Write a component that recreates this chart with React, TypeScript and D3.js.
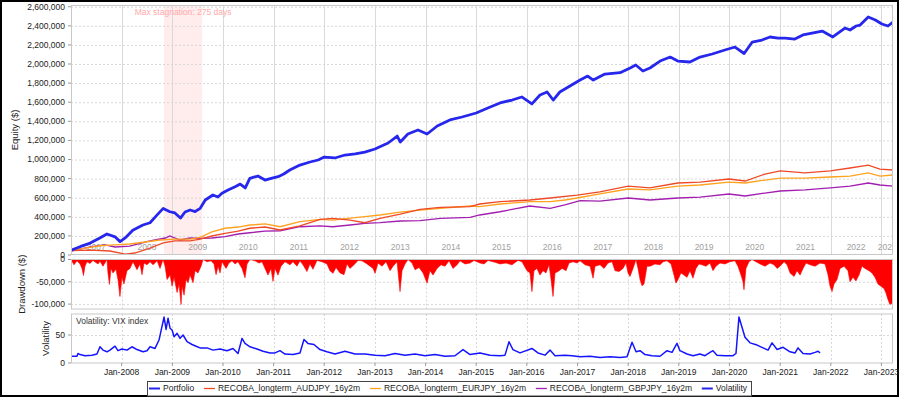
import React from 'react';
import * as d3 from 'd3';

// time is stored as decimal years, values in $ (vix in points)
const portfolio: [number, number][] = [
  [2007.0, 50000], [2007.18, 87000], [2007.38, 125000], [2007.57, 178000], [2007.71, 220000],
  [2007.87, 190000], [2007.97, 140000], [2008.09, 188000], [2008.22, 260000], [2008.42, 314000],
  [2008.56, 338000], [2008.7, 420000], [2008.82, 488000], [2008.95, 453000], [2009.05, 440000],
  [2009.16, 387000], [2009.25, 450000], [2009.35, 471000], [2009.45, 455000], [2009.55, 489000],
  [2009.65, 576000], [2009.8, 628000], [2009.9, 607000], [2009.98, 646000], [2010.1, 680000],
  [2010.24, 715000], [2010.34, 743000], [2010.44, 702000], [2010.53, 803000], [2010.69, 827000],
  [2010.83, 785000], [2010.97, 806000], [2011.09, 820000], [2011.2, 848000], [2011.32, 890000],
  [2011.52, 942000], [2011.72, 974000], [2011.88, 995000], [2012.0, 1026000], [2012.21, 1016000],
  [2012.41, 1047000], [2012.61, 1058000], [2012.8, 1078000], [2013.0, 1110000], [2013.26, 1173000],
  [2013.44, 1246000], [2013.5, 1183000], [2013.65, 1267000], [2013.85, 1309000], [2014.03, 1267000],
  [2014.23, 1351000], [2014.48, 1414000], [2014.72, 1445000], [2015.0, 1487000], [2015.23, 1539000],
  [2015.47, 1592000], [2015.71, 1623000], [2015.9, 1655000], [2016.1, 1582000], [2016.26, 1676000],
  [2016.4, 1707000], [2016.52, 1623000], [2016.65, 1707000], [2016.85, 1770000], [2017.05, 1832000],
  [2017.2, 1874000], [2017.31, 1832000], [2017.54, 1895000], [2017.84, 1909000], [2018.04, 1958000],
  [2018.15, 1990000], [2018.29, 1927000], [2018.43, 1958000], [2018.63, 2031000], [2018.83, 2073000],
  [2018.98, 2031000], [2019.22, 2021000], [2019.42, 2073000], [2019.66, 2105000], [2019.91, 2147000],
  [2020.11, 2178000], [2020.29, 2110000], [2020.45, 2230000], [2020.64, 2251000], [2020.8, 2283000],
  [2020.96, 2272000], [2021.1, 2272000], [2021.29, 2261000], [2021.45, 2304000], [2021.63, 2324000],
  [2021.83, 2345000], [2022.04, 2283000], [2022.28, 2377000], [2022.38, 2356000], [2022.5, 2398000],
  [2022.58, 2408000], [2022.74, 2492000], [2022.88, 2461000], [2023.01, 2419000], [2023.13, 2398000],
  [2023.229, 2440000],
];

const audjpy: [number, number][] = [
  [2007.0, 45000], [2007.38, 52000], [2007.77, 42000], [2008.07, 10000], [2008.26, 21000],
  [2008.56, 73000], [2008.82, 126000], [2009.05, 147000], [2009.35, 147000], [2009.55, 167000],
  [2009.78, 199000], [2010.04, 227000], [2010.3, 251000], [2010.53, 280000], [2010.83, 293000],
  [2011.13, 262000], [2011.52, 304000], [2011.92, 373000], [2012.17, 384000], [2012.51, 366000],
  [2012.8, 338000], [2013.1, 384000], [2013.5, 429000], [2013.89, 478000], [2014.29, 499000],
  [2014.88, 506000], [2015.07, 534000], [2015.47, 558000], [2016.06, 576000], [2016.46, 597000],
  [2016.99, 628000], [2017.44, 660000], [2018.0, 722000], [2018.43, 702000], [2018.98, 754000],
  [2019.42, 764000], [2019.99, 796000], [2020.31, 775000], [2020.7, 848000], [2021.0, 880000],
  [2021.49, 859000], [2021.99, 880000], [2022.38, 911000], [2022.74, 942000], [2022.97, 900000],
  [2023.229, 890000],
];

const eurjpy: [number, number][] = [
  [2007.0, 45000], [2007.28, 73000], [2007.57, 97000], [2007.87, 105000], [2008.16, 115000],
  [2008.46, 136000], [2008.76, 157000], [2009.05, 167000], [2009.35, 167000], [2009.55, 185000],
  [2009.78, 241000], [2010.04, 280000], [2010.3, 293000], [2010.53, 314000], [2010.83, 325000],
  [2011.13, 296000], [2011.52, 349000], [2011.92, 373000], [2012.17, 366000], [2012.51, 387000],
  [2012.8, 401000], [2013.1, 419000], [2013.5, 450000], [2013.89, 471000], [2014.29, 489000],
  [2014.88, 513000], [2015.07, 506000], [2015.47, 534000], [2016.06, 558000], [2016.46, 558000],
  [2016.75, 576000], [2016.99, 597000], [2017.44, 639000], [2018.0, 691000], [2018.43, 681000],
  [2018.98, 722000], [2019.42, 733000], [2019.99, 764000], [2020.31, 754000], [2020.7, 785000],
  [2021.0, 806000], [2021.49, 806000], [2021.99, 817000], [2022.38, 827000], [2022.74, 859000],
  [2022.97, 827000], [2023.229, 838000],
];

const gbpjpy: [number, number][] = [
  [2007.0, 40000], [2007.38, 84000], [2007.67, 105000], [2007.87, 84000], [2008.16, 94000],
  [2008.56, 147000], [2008.86, 178000], [2008.95, 199000], [2009.15, 157000], [2009.35, 178000],
  [2009.55, 175000], [2009.78, 178000], [2010.04, 192000], [2010.3, 220000], [2010.53, 233000],
  [2010.83, 251000], [2011.13, 254000], [2011.52, 296000], [2011.92, 304000], [2012.17, 296000],
  [2012.51, 314000], [2012.8, 331000], [2013.1, 338000], [2013.5, 356000], [2013.89, 359000],
  [2014.29, 384000], [2014.88, 395000], [2015.07, 419000], [2015.47, 453000], [2016.06, 513000],
  [2016.46, 488000], [2016.75, 524000], [2017.05, 569000], [2017.44, 565000], [2018.0, 597000],
  [2018.43, 576000], [2018.98, 597000], [2019.42, 607000], [2019.99, 639000], [2020.31, 618000],
  [2020.7, 649000], [2021.0, 670000], [2021.49, 681000], [2021.99, 702000], [2022.38, 722000],
  [2022.74, 754000], [2022.97, 733000], [2023.229, 722000],
];

const drawdown: [number, number][] = [
  [2007.0, 0], [2007.059, -12000], [2007.118, -3000], [2007.178, -10000], [2007.217, -20000],
  [2007.247, -36000], [2007.276, -15000], [2007.316, -5000], [2007.375, -9000], [2007.434, -2000],
  [2007.533, -10000], [2007.573, -4000], [2007.632, -15000], [2007.711, 0], [2007.73, -30000],
  [2007.76, -56000], [2007.79, -20000], [2007.829, -30000], [2007.888, -22000], [2007.928, -45000],
  [2007.967, -83000], [2008.007, -40000], [2008.046, -55000], [2008.106, -25000], [2008.165, -20000],
  [2008.224, -5000], [2008.303, -23000], [2008.362, -10000], [2008.402, -34000], [2008.441, -8000],
  [2008.5, -12000], [2008.56, -5000], [2008.619, -12000], [2008.698, -3000], [2008.757, -20000],
  [2008.816, 0], [2008.856, -15000], [2008.895, -45000], [2008.955, -35000], [2008.994, -60000],
  [2009.034, -40000], [2009.093, -74000], [2009.132, -55000], [2009.172, -101000], [2009.191, -60000],
  [2009.231, -80000], [2009.27, -45000], [2009.31, -52000], [2009.349, -35000], [2009.409, -52000],
  [2009.448, -25000], [2009.507, -30000], [2009.567, -15000], [2009.606, 0], [2009.685, -5000],
  [2009.764, -3000], [2009.823, -10000], [2009.863, -34000], [2009.902, -15000], [2009.942, -30000],
  [2009.981, -5000], [2010.06, -20000], [2010.119, -8000], [2010.179, -3000], [2010.238, -10000],
  [2010.297, -5000], [2010.376, -20000], [2010.435, -41000], [2010.475, -10000], [2010.534, 0],
  [2010.633, -3000], [2010.712, -8000], [2010.771, -5000], [2010.85, -25000], [2010.889, -35000],
  [2010.949, -20000], [2010.988, -49000], [2011.028, -20000], [2011.087, -35000], [2011.146, -15000],
  [2011.225, -5000], [2011.324, -12000], [2011.383, -5000], [2011.462, -15000], [2011.521, -3000],
  [2011.58, -12000], [2011.659, -27000], [2011.718, -10000], [2011.778, -22000], [2011.857, -2000],
  [2011.955, -5000], [2012.054, -10000], [2012.113, -25000], [2012.173, -31000], [2012.232, -18000],
  [2012.311, -30000], [2012.39, -34000], [2012.449, -10000], [2012.508, -20000], [2012.587, -12000],
  [2012.666, -2000], [2012.745, -3000], [2012.844, -10000], [2012.962, -20000], [2013.002, -31000],
  [2013.061, -8000], [2013.14, -15000], [2013.219, -5000], [2013.298, -25000], [2013.357, -15000],
  [2013.436, -5000], [2013.495, -72000], [2013.535, -25000], [2013.594, -10000], [2013.653, 0],
  [2013.732, -8000], [2013.792, -23000], [2013.871, -18000], [2013.95, -30000], [2014.029, -53000],
  [2014.086, -25000], [2014.147, -35000], [2014.226, -20000], [2014.305, -12000], [2014.384, -15000],
  [2014.463, -3000], [2014.542, -20000], [2014.621, -12000], [2014.68, -3000], [2014.779, -10000],
  [2014.878, -8000], [2014.957, -2000], [2015.075, -8000], [2015.154, -10000], [2015.233, -2000],
  [2015.371, -6000], [2015.47, -10000], [2015.588, -8000], [2015.707, -12000], [2015.825, -2000],
  [2015.904, -5000], [2016.003, -25000], [2016.062, -30000], [2016.101, -72000], [2016.141, -25000],
  [2016.2, -20000], [2016.259, -35000], [2016.319, -25000], [2016.378, -30000], [2016.437, -12000],
  [2016.477, -45000], [2016.516, -83000], [2016.556, -30000], [2016.615, -27000], [2016.694, -20000],
  [2016.773, -25000], [2016.832, -8000], [2016.911, -5000], [2016.99, -8000], [2017.049, -3000],
  [2017.148, -12000], [2017.247, -15000], [2017.306, -42000], [2017.345, -15000], [2017.444, -12000],
  [2017.523, -20000], [2017.602, -8000], [2017.681, -5000], [2017.74, -25000], [2017.819, -27000],
  [2017.898, -20000], [2017.957, -8000], [2017.997, -30000], [2018.036, -38000], [2018.096, -20000],
  [2018.155, 0], [2018.194, -20000], [2018.234, -45000], [2018.273, -59000], [2018.313, -55000],
  [2018.372, -15000], [2018.431, -15000], [2018.53, -10000], [2018.629, -12000], [2018.688, -5000],
  [2018.767, -3000], [2018.846, -10000], [2018.905, -35000], [2018.944, -53000], [2018.984, -45000],
  [2019.043, -30000], [2019.102, -35000], [2019.162, -40000], [2019.221, -25000], [2019.28, -42000],
  [2019.339, -20000], [2019.398, -10000], [2019.458, -12000], [2019.537, -15000], [2019.616, -8000],
  [2019.675, -25000], [2019.734, -15000], [2019.813, -8000], [2019.912, -10000], [2020.011, -5000],
  [2020.109, -3000], [2020.168, -15000], [2020.228, -35000], [2020.267, -50000], [2020.287, -68000],
  [2020.326, -20000], [2020.386, -5000], [2020.445, 0], [2020.524, -5000], [2020.603, -10000],
  [2020.702, -15000], [2020.8, -8000], [2020.879, -12000], [2020.939, -20000], [2020.998, -15000],
  [2021.077, -5000], [2021.136, -12000], [2021.195, -30000], [2021.274, -38000], [2021.333, -25000],
  [2021.393, -35000], [2021.452, -20000], [2021.511, -8000], [2021.59, -12000], [2021.689, -15000],
  [2021.788, -8000], [2021.886, -10000], [2021.946, -35000], [2021.985, -60000], [2022.025, -72000],
  [2022.064, -55000], [2022.123, -45000], [2022.183, -20000], [2022.261, -15000], [2022.339, -25000],
  [2022.38, -50000], [2022.439, -40000], [2022.497, -48000], [2022.557, -35000], [2022.616, -15000],
  [2022.675, -20000], [2022.754, -25000], [2022.813, -30000], [2022.873, -40000], [2022.932, -55000],
  [2022.991, -60000], [2023.051, -65000], [2023.09, -75000], [2023.13, -90000], [2023.169, -101000],
  [2023.209, -98000], [2023.229, -90000],
];

const vix: [number, number][] = [
  [2007.02, 12], [2007.118, 12], [2007.138, 17], [2007.178, 15], [2007.276, 13], [2007.415, 14],
  [2007.513, 16], [2007.573, 29], [2007.632, 23], [2007.711, 20], [2007.77, 23], [2007.869, 30],
  [2007.928, 22], [2008.007, 25], [2008.106, 23], [2008.204, 29], [2008.303, 24], [2008.422, 20],
  [2008.5, 22], [2008.56, 29], [2008.658, 26], [2008.737, 41], [2008.797, 66], [2008.836, 82],
  [2008.876, 60], [2008.915, 80], [2008.955, 62], [2008.994, 59], [2009.034, 47], [2009.093, 53],
  [2009.152, 44], [2009.211, 50], [2009.29, 38], [2009.389, 33], [2009.468, 30], [2009.547, 27],
  [2009.685, 27], [2009.803, 23], [2009.942, 25], [2010.08, 22], [2010.198, 26], [2010.297, 17],
  [2010.376, 44], [2010.435, 35], [2010.534, 29], [2010.672, 25], [2010.791, 21], [2010.929, 18],
  [2011.028, 18], [2011.126, 22], [2011.225, 16], [2011.383, 15], [2011.521, 18], [2011.6, 42],
  [2011.679, 35], [2011.797, 33], [2011.916, 24], [2012.054, 20], [2012.212, 16], [2012.409, 21],
  [2012.607, 16], [2012.804, 16], [2013.002, 14], [2013.199, 13], [2013.396, 17], [2013.594, 14],
  [2013.792, 16], [2013.989, 13], [2014.187, 15], [2014.384, 12], [2014.581, 13], [2014.739, 24],
  [2014.878, 15], [2015.075, 18], [2015.272, 14], [2015.47, 13], [2015.569, 14], [2015.648, 38],
  [2015.726, 24], [2015.865, 18], [2016.101, 26], [2016.22, 18], [2016.358, 14], [2016.457, 23],
  [2016.556, 13], [2016.753, 14], [2016.891, 13], [2017.049, 11], [2017.247, 12], [2017.444, 10],
  [2017.641, 11], [2017.839, 10], [2017.977, 11], [2018.076, 37], [2018.155, 20], [2018.234, 22],
  [2018.333, 15], [2018.471, 13], [2018.629, 12], [2018.767, 22], [2018.866, 19], [2018.964, 35],
  [2019.023, 22], [2019.162, 16], [2019.28, 13], [2019.418, 16], [2019.517, 13], [2019.616, 19],
  [2019.675, 22], [2019.754, 14], [2019.912, 13], [2020.07, 13], [2020.129, 17], [2020.188, 82],
  [2020.248, 64], [2020.307, 46], [2020.406, 36], [2020.544, 32], [2020.662, 27], [2020.761, 23],
  [2020.84, 36], [2020.939, 24], [2021.057, 28], [2021.195, 20], [2021.294, 18], [2021.353, 27],
  [2021.452, 17], [2021.59, 16], [2021.689, 19], [2021.748, 21], [2021.788, 18],
];

const equityTicks = [0, 200000, 400000, 600000, 800000, 1000000, 1200000, 1400000, 1600000, 1800000, 2000000, 2200000, 2400000, 2600000];
const drawdownTicks = [0, -50000, -100000];
const volTicks = [0, 50];
const monthLabels = ['Jan-2008', 'Jan-2009', 'Jan-2010', 'Jan-2011', 'Jan-2012', 'Jan-2013', 'Jan-2014', 'Jan-2015', 'Jan-2016', 'Jan-2017', 'Jan-2018', 'Jan-2019', 'Jan-2020', 'Jan-2021', 'Jan-2022', 'Jan-2023'];
const yearLabels = ['2007', '2008', '2009', '2010', '2011', '2012', '2013', '2014', '2015', '2016', '2017', '2018', '2019', '2020', '2021', '2022', '2023'];
const seriesNames = ['Portfolio', 'RECOBA_longterm_AUDJPY_16y2m', 'RECOBA_longterm_EURJPY_16y2m', 'RECOBA_longterm_GBPJPY_16y2m', 'Volatility'];
const seriesColors = ['#2626ec', '#ee4a28', '#ffa21f', '#a21fb0', '#2626ec'];
const stagnation = [2008.836, 2009.589];
const stagnationText = 'Max stagnation: 275 days';
const volNote = 'Volatility: VIX index';

const FONT = "'Liberation Sans', Arial, sans-serif";
const left = 71, right = 893;
const mainTop = 5, mainBottom = 255;
const ddTop = 259.5, ddBottom = 309;
const volTop = 314, volBottom = 363;

const yearToDate = (t: number) => {
  const y = Math.floor(t);
  const a = Date.UTC(y, 0, 1), b = Date.UTC(y + 1, 0, 1);
  return new Date(a + (t - y) * (b - a));
};

const measure = (s: string, font: string) => {
  const ctx = document.createElement('canvas').getContext('2d');
  if (!ctx) return s.length * 5;
  ctx.font = font;
  return ctx.measureText(s).width;
};

export default function App() {
  const x = d3.scaleUtc().domain([yearToDate(2007), yearToDate(2023.229)]).range([left, right]);
  const yEq = d3.scaleLinear().domain([0, 2618000]).range([mainBottom, mainTop]);
  const yDd = d3.scaleLinear().domain([-111000, 0]).range([ddBottom, ddTop]);
  const yVol = d3.scaleLinear().domain([0, 87.5]).range([volBottom, volTop]);
  const fmt = d3.formatLocale({ decimal: '.', thousands: ',', grouping: [3], currency: ['$', ''], minus: '-' }).format(',');

  const lineEq = d3.line<[number, number]>().x(d => x(yearToDate(d[0]))).y(d => yEq(d[1]));
  const lineVol = d3.line<[number, number]>().x(d => x(yearToDate(d[0]))).y(d => yVol(d[1]));
  const ddArea = d3.area<[number, number]>()
    .x(d => x(yearToDate(d[0])))
    .y0(yDd(0))
    .y1(d => yDd(d[1]));

  const janDates = monthLabels.map(s => yearToDate(+s.slice(4)));
  const janAll = yearLabels.map(s => yearToDate(+s));
  const [d0, d1] = x.domain();

  // legend layout
  const legFont = `8.5px ${FONT}`;
  const boxL = 147, boxR = 751, lineLen = 11, lineGap = 3;
  const widths = seriesNames.map(s => measure(s, legFont));
  const gap = (boxR - boxL - 6 - seriesNames.length * (lineLen + lineGap) - d3.sum(widths)) / (seriesNames.length - 1);
  let cx = boxL + 2;
  const legendItems = seriesNames.map((name, i) => {
    const item = { name, x: cx, color: seriesColors[i] };
    cx += lineLen + lineGap + widths[i] + gap;
    return item;
  });

  const sx0 = x(yearToDate(stagnation[0])), sx1 = x(yearToDate(stagnation[1]));

  return (
    <svg width={900} height={399} style={{ position: 'absolute', left: 0, top: 0, background: '#fff' }} fontFamily={FONT}>
      <defs>
        <clipPath id="clipMain"><rect x={left} y={mainTop} width={right - left} height={mainBottom - mainTop} /></clipPath>
        <clipPath id="clipDd"><rect x={left} y={ddTop} width={right - left} height={ddBottom - ddTop} /></clipPath>
        <clipPath id="clipVol"><rect x={left} y={volTop} width={right - left} height={volBottom - volTop} /></clipPath>
      </defs>
      <rect x={1} y={1} width={897} height={395} fill="#fff" stroke="#000" strokeWidth={2} />

      {/* main panel */}
      <g clipPath="url(#clipMain)">
        <rect x={sx0} y={mainTop} width={sx1 - sx0} height={mainBottom - mainTop} fill="#ffecec" />
        {equityTicks.slice(1).map(t => (
          <line key={t} x1={left} x2={right} y1={yEq(t) + 0.5} y2={yEq(t) + 0.5} stroke="#d8d8d8" strokeDasharray="2,2" />
        ))}
        {janDates.map((d, i) => (
          <line key={i} x1={Math.round(x(d)) + 0.5} x2={Math.round(x(d)) + 0.5} y1={mainTop} y2={mainBottom} stroke="#d9d9d9" />
        ))}
        {yearLabels.map((s, i) => {
          const a = Math.max(+janAll[i], +d0), b = Math.min(+yearToDate(+s + 1), +d1);
          return (
            <text key={s} x={(x(new Date(a)) + x(new Date(b))) / 2} y={247.5} dy="0.35em" textAnchor="middle" fontSize={8.5} fill="#a0a0a0">{s}</text>
          );
        })}
        <text x={(sx0 + sx1) / 2} y={12} dy="0.35em" textAnchor="middle" fontSize={8.5} fill="#ffaaaa">{stagnationText}</text>
        <path d={lineEq(gbpjpy) || ''} fill="none" stroke={seriesColors[3]} strokeWidth={1.3} />
        <path d={lineEq(eurjpy) || ''} fill="none" stroke={seriesColors[2]} strokeWidth={1.3} />
        <path d={lineEq(audjpy) || ''} fill="none" stroke={seriesColors[1]} strokeWidth={1.3} />
        <path d={lineEq(portfolio) || ''} fill="none" stroke={seriesColors[0]} strokeWidth={2.8} strokeLinejoin="round" />
      </g>
      <rect x={left + 0.5} y={mainTop + 0.5} width={right - left - 1} height={mainBottom - mainTop - 1} fill="none" stroke="#c8c8c8" />
      {equityTicks.map(t => (
        <g key={t}>
          <line x1={68} x2={71} y1={yEq(t)} y2={yEq(t)} stroke="#999" />
          <text x={65} y={yEq(t)} dy="0.35em" textAnchor="end" fontSize={8.5} fill="#222">{fmt(t)}</text>
        </g>
      ))}
      <text transform={`translate(15,${(mainTop + mainBottom) / 2}) rotate(-90)`} textAnchor="middle" dy="0.35em" fontSize={9.5} fill="#222">Equity ($)</text>

      {/* drawdown panel */}
      <g clipPath="url(#clipDd)">
        {drawdownTicks.slice(1).map(t => (
          <line key={t} x1={left} x2={right} y1={yDd(t) + 0.5} y2={yDd(t) + 0.5} stroke="#d8d8d8" strokeDasharray="2,2" />
        ))}
        {janDates.map((d, i) => (
          <line key={i} x1={Math.round(x(d)) + 0.5} x2={Math.round(x(d)) + 0.5} y1={ddTop} y2={ddBottom} stroke="#d8d8d8" strokeDasharray="2,2" />
        ))}
        <path d={ddArea(drawdown) || ''} fill="#ff0000" stroke="#ff0000" strokeWidth={0.6} />
      </g>
      <rect x={left + 0.5} y={ddTop} width={right - left - 1} height={ddBottom - ddTop} fill="none" stroke="#c8c8c8" />
      {drawdownTicks.map(t => (
        <g key={t}>
          <line x1={68} x2={71} y1={yDd(t)} y2={yDd(t)} stroke="#999" />
          <text x={65} y={yDd(t)} dy="0.35em" textAnchor="end" fontSize={8.5} fill="#222">{fmt(t)}</text>
        </g>
      ))}
      <text transform={`translate(22,${(ddTop + ddBottom) / 2}) rotate(-90)`} textAnchor="middle" dy="0.35em" fontSize={9.5} fill="#222">Drawdown ($)</text>

      {/* volatility panel */}
      <g clipPath="url(#clipVol)">
        {volTicks.slice(1).map(t => (
          <line key={t} x1={left} x2={right} y1={yVol(t) + 0.5} y2={yVol(t) + 0.5} stroke="#d8d8d8" strokeDasharray="2,2" />
        ))}
        {janDates.map((d, i) => (
          <line key={i} x1={Math.round(x(d)) + 0.5} x2={Math.round(x(d)) + 0.5} y1={volTop} y2={volBottom} stroke="#d8d8d8" strokeDasharray="2,2" />
        ))}
        <text x={left + 5} y={volTop + 7} dy="0.35em" fontSize={8.5} fill="#333">{volNote}</text>
        <path d={lineVol(vix) || ''} fill="none" stroke="#1414ff" strokeWidth={1.5} strokeLinejoin="round" />
      </g>
      <rect x={left + 0.5} y={volTop} width={right - left - 1} height={volBottom - volTop} fill="none" stroke="#c8c8c8" />
      {volTicks.map(t => (
        <g key={t}>
          <line x1={68} x2={71} y1={yVol(t)} y2={yVol(t)} stroke="#999" />
          <text x={65} y={yVol(t)} dy="0.35em" textAnchor="end" fontSize={8.5} fill="#222">{fmt(t)}</text>
        </g>
      ))}
      <text transform={`translate(46,${(volTop + volBottom) / 2}) rotate(-90)`} textAnchor="middle" dy="0.35em" fontSize={9.5} fill="#222">Volatility</text>

      {/* x axis */}
      {janDates.map((d, i) => (
        <g key={i}>
          <line x1={x(d)} x2={x(d)} y1={volBottom} y2={volBottom + 3} stroke="#999" />
          <text x={x(d)} y={372} dy="0.35em" textAnchor="middle" fontSize={8.5} fill="#222">{monthLabels[i]}</text>
        </g>
      ))}

      {/* legend */}
      <rect x={boxL + 0.5} y={381.5} width={boxR - boxL} height={14.5} fill="#fff" stroke="#444" />
      {legendItems.map((it, i) => (
        <g key={it.name}>
          <line x1={it.x} x2={it.x + lineLen} y1={388.5} y2={388.5} stroke={it.color} strokeWidth={i === 0 || i === 4 ? 2 : 1.3} />
          <text x={it.x + lineLen + lineGap} y={388.5} dy="0.35em" fontSize={8.5} fill="#222">{it.name}</text>
        </g>
      ))}
    </svg>
  );
}
